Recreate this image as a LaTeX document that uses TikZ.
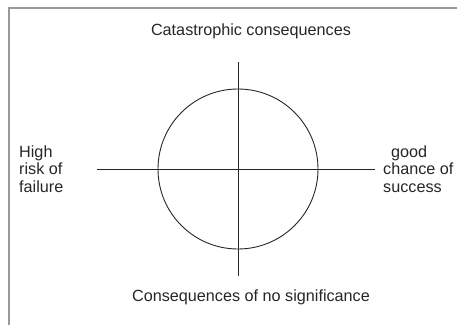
\documentclass[tikz,border=0pt]{standalone}
\usepackage{fontspec}
\setmainfont{Liberation Sans}
\begin{document}
\begin{tikzpicture}[x=1pt,y=-1pt,
  lbl/.style={font=\fontsize{16.2}{17.5}\selectfont, text=black!85, inner sep=0pt},
  axis/.style={line width=0.9pt, draw=black!85},
  frame/.style={line width=1.2pt, draw=black!40}]
\useasboundingbox (0,0) rectangle (457,324);
\begin{scope}
\clip (0,0) rectangle (457,324);
\draw[frame] (9,8) rectangle (470,340);
\end{scope}
\coordinate (c) at (238,169);
\coordinate (top) at (238,62);
\coordinate (bot) at (238,276);
\coordinate (lft) at (97,169);
\coordinate (rgt) at (375,169);
\draw[axis] (c) circle (80);
\draw[axis] (top) -- (bot);
\draw[axis] (lft) -- (rgt);
\node[lbl] (catas) at (251,31) {Catastrophic consequences};
\node[lbl] (nosig) at (251,297) {Consequences of no significance};
\node[lbl, anchor=west, align=left] (risk) at (19,169) {High\\risk of\\failure};
\node[lbl, anchor=west, align=left] (succ) at (383,169) {\hspace*{8pt}good\\chance of\\success};
\end{tikzpicture}
\end{document}
